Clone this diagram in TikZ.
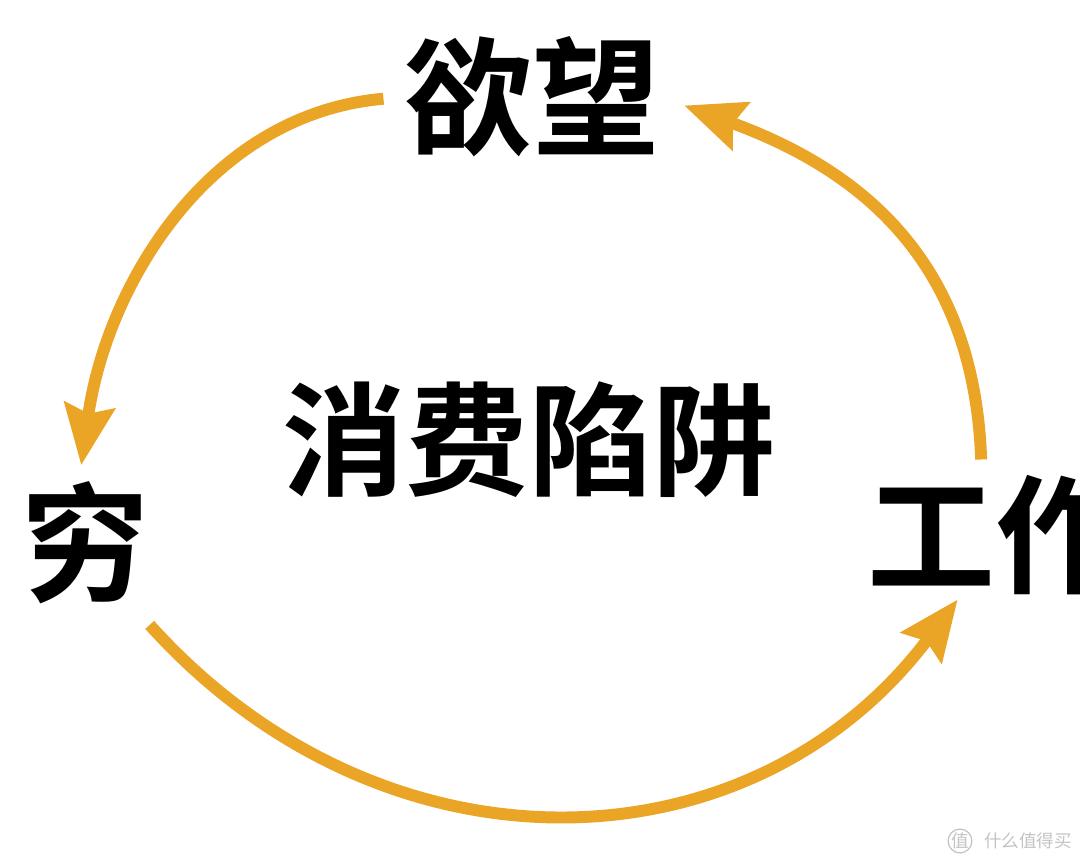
\documentclass[tikz,border=0pt]{standalone}
\usepackage{fontspec}
\newfontfamily\cjk{Noto Sans CJK SC}
\newfontfamily\cjkbf{Noto Sans CJK SC Bold}
\usetikzlibrary{arrows.meta,positioning}
\definecolor{loopgold}{RGB}{234,165,38}
\definecolor{markgray}{RGB}{195,195,195}

\begin{document}
\begin{tikzpicture}
\tikzset{word/.style={shape=rectangle,inner sep=0pt,font=\cjkbf\fontsize{36.4}{40}\selectfont}}
\tikzset{cyclearrow/.style={draw=loopgold,line width=3.4pt,-{Stealth[length=6mm,width=5mm,inset=0.8mm]}}}
\tikzset{brand/.style={inner sep=0pt,text=markgray,font=\cjk\fontsize{5}{6}\selectfont}}
\def\gap{0.2cm}
%
\useasboundingbox (0,0) rectangle (10.8,8.64);
\clip (0,0) rectangle (10.8,8.64);
%
\node at (5.32,7.67) [word] (yuwang) {欲望};
\node at (0.85,3.21) [word] (qiong) {穷};
\node at (8.67,3.29) [word,anchor=west] (gongzuo) {工作};
\node at (5.29,4.24) [word,font=\cjkbf\fontsize{35}{40}\selectfont] (xianjing) {消费陷阱};
%
\draw[cyclearrow,shorten <=\gap,shorten >=0.16cm] (yuwang.west) to[out=185,in=82] ([xshift=-0.06cm]qiong.north);
\draw[cyclearrow,shorten >=0.05cm] ([yshift=-0.2cm]qiong.south east) to[out=-48,in=233,looseness=1.1] (gongzuo.-120);
\draw[cyclearrow,shorten <=0.15cm,shorten >=0.25cm] (gongzuo.103) to[out=92,in=-20,looseness=1.1] (yuwang.east);
%
\node at (9.60,0.23) [brand,shape=circle,draw=markgray,line width=0.35pt,minimum size=0.21cm] (zhi) {值};
\node [brand,right=0.11cm of zhi] (zhide) {什么值得买};
\end{tikzpicture}
\end{document}
